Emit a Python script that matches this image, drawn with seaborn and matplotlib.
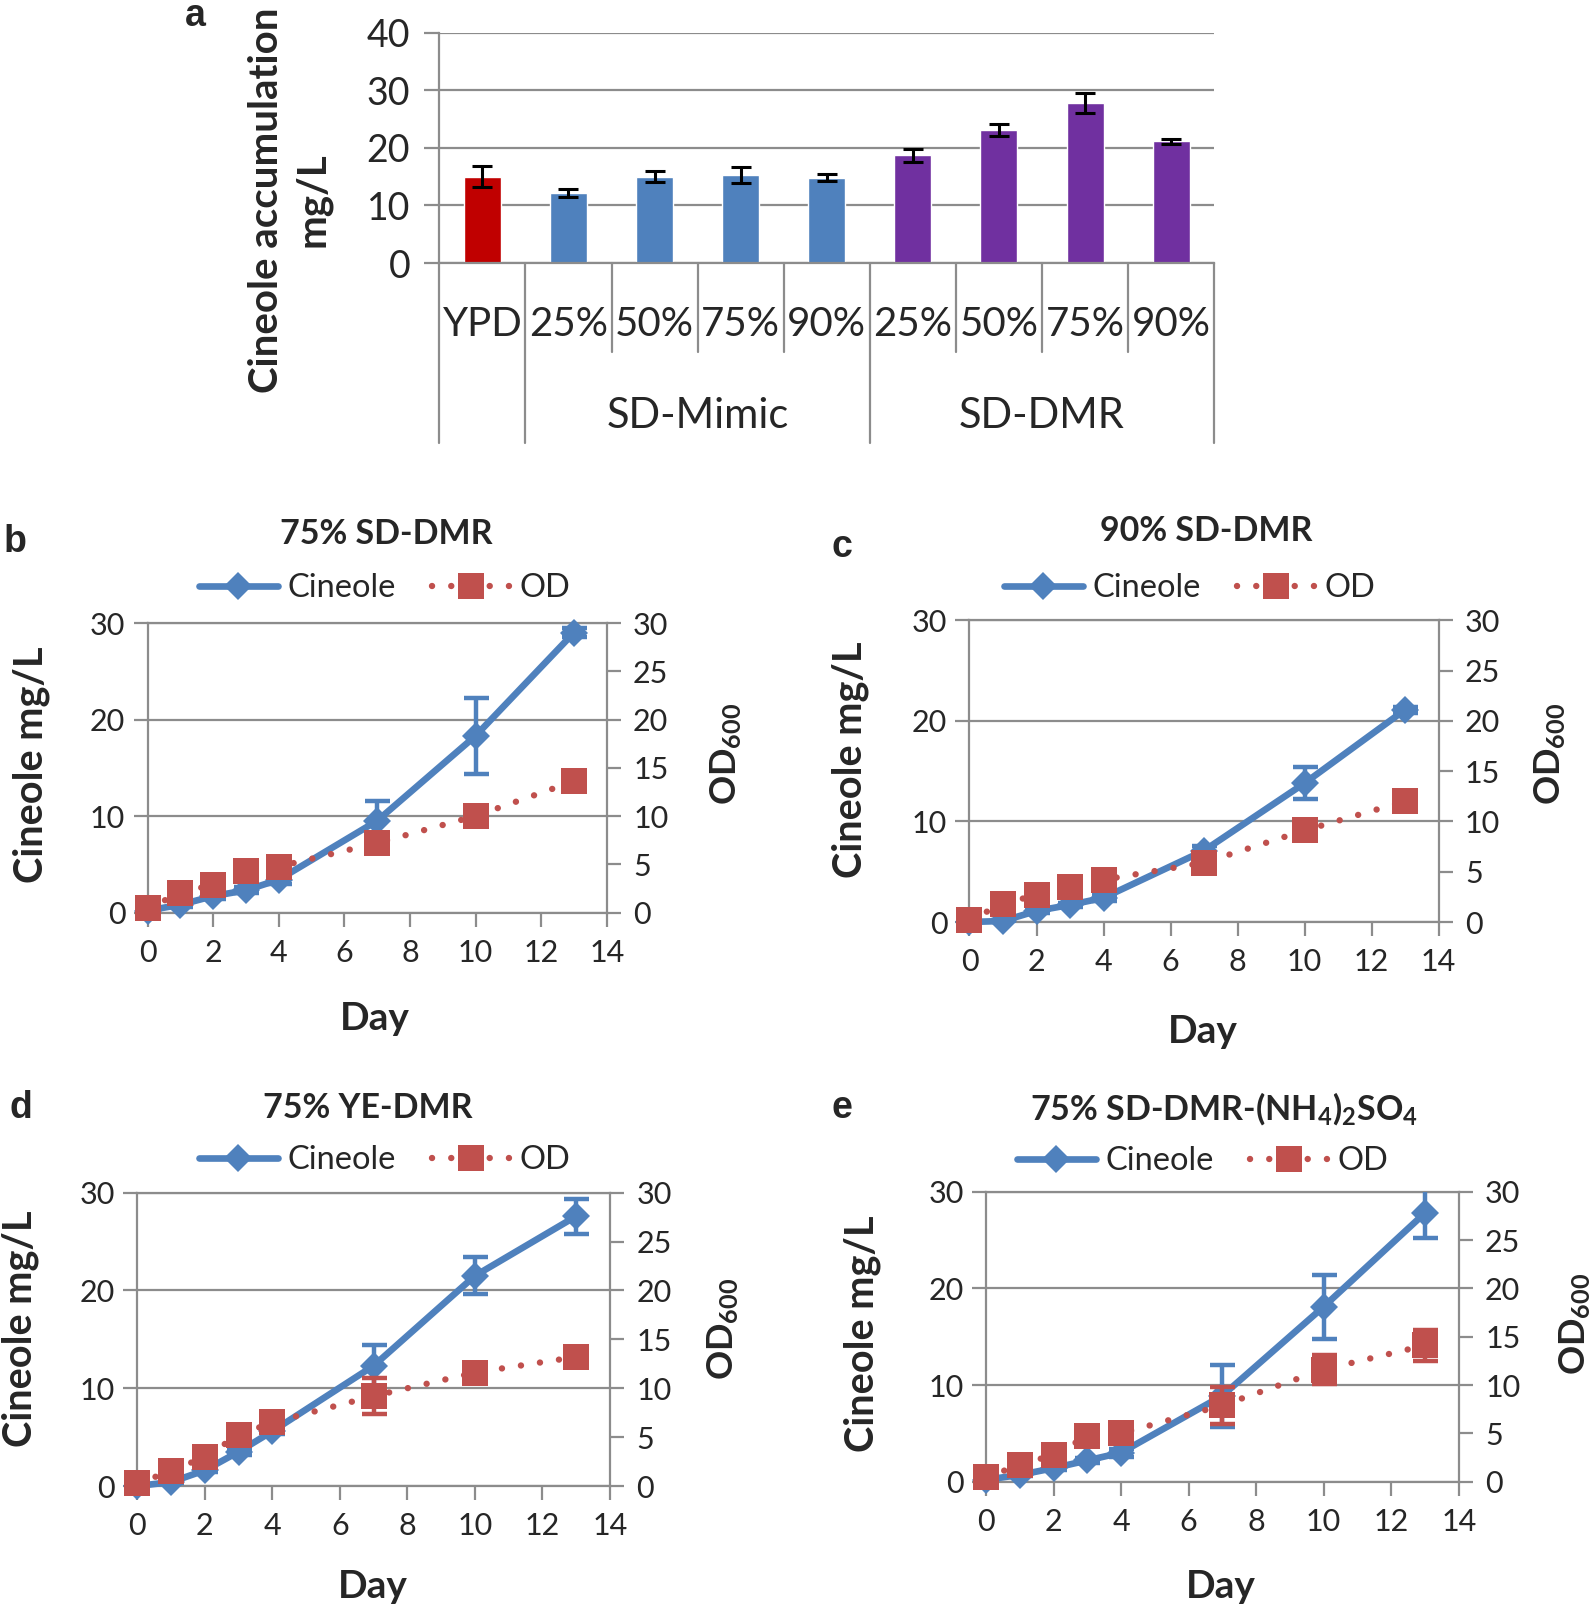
import numpy as np
import pandas as pd
import matplotlib
matplotlib.use("Agg")
import matplotlib.pyplot as plt
import seaborn as sns
from matplotlib.transforms import blended_transform_factory

# ---------------- data ----------------
a_categories = ["YPD", "SD-Mimic 25%", "SD-Mimic 50%", "SD-Mimic 75%", "SD-Mimic 90%",
                "SD-DMR 25%", "SD-DMR 50%", "SD-DMR 75%", "SD-DMR 90%"]
a_tick_labels = ["YPD", "25%", "50%", "75%", "90%", "25%", "50%", "75%", "90%"]
a_values = [15.0, 12.1, 15.0, 15.3, 14.8, 18.7, 23.1, 27.8, 21.1]
a_errors = [1.8, 0.7, 1.0, 1.4, 0.6, 1.1, 1.1, 1.8, 0.5]
a_groups = ["SD-Mimic", "SD-DMR"]

days = [0, 1, 2, 3, 4, 7, 10, 13]

b_cineole = [0.2, 0.8, 1.7, 2.3, 3.4, 9.5, 18.3, 29.0]
b_cineole_err = [0.1, 0.2, 0.3, 0.3, 0.4, 2.1, 3.9, 0.5]
b_od = [0.45, 2.0, 2.9, 4.3, 4.75, 7.2, 10.0, 13.6]
b_od_err = [0, 0, 0, 0, 0, 0, 0, 0]

c_cineole = [0.0, 0.1, 1.1, 1.7, 2.4, 7.1, 13.8, 21.1]
c_cineole_err = [0.0, 0.1, 0.2, 0.2, 0.3, 0.5, 1.6, 0.3]
c_od = [0.2, 1.8, 2.7, 3.5, 4.2, 5.9, 9.1, 12.0]
c_od_err = [0, 0, 0, 0, 0, 0, 0, 0]

d_cineole = [0.0, 0.4, 1.6, 3.5, 5.6, 12.3, 21.5, 27.6]
d_cineole_err = [0.0, 0.1, 0.2, 0.3, 0.3, 2.1, 1.9, 1.8]
d_od = [0.3, 1.5, 3.0, 5.2, 6.5, 9.2, 11.6, 13.2]
d_od_err = [0, 0, 0, 0, 0, 1.8, 0.5, 0.3]

e_cineole = [0.2, 0.7, 1.4, 2.2, 3.0, 8.9, 18.1, 27.8]
e_cineole_err = [0.0, 0.1, 0.2, 0.3, 0.4, 3.2, 3.3, 2.6]
e_od = [0.5, 1.7, 2.8, 4.7, 5.0, 7.9, 11.6, 14.1]
e_od_err = [0, 0, 0, 0, 0, 1.9, 1.5, 1.6]

# ---------------- style ----------------
sns.set_theme(style="white")
plt.rcParams["font.family"] = ["Lato", "DejaVu Sans"]
plt.rcParams["mathtext.fontset"] = "custom"
plt.rcParams["mathtext.rm"] = "Lato"
plt.rcParams["mathtext.bf"] = "Lato:bold"
plt.rcParams["mathtext.default"] = "regular"

W, H = 1595, 1609
BLUE = "#4F81BD"
RED = "#C0504D"
BAR_RED = "#C00000"
PURPLE = "#7030A0"
GRAY = "#8C8C8C"

fig = plt.figure(figsize=(W / 100, H / 100), dpi=100)


def P(x, y):
    return x / W, 1 - y / H


def rect(l, t, r, b):
    return [l / W, 1 - b / H, (r - l) / W, (b - t) / H]


# ---------------- panel a ----------------
axa = fig.add_axes(rect(439.3, 32.6, 1214.2, 263.0))
bar_colors = [BAR_RED] + [BLUE] * 4 + [PURPLE] * 4
df_a = pd.DataFrame({"cat": a_categories, "val": a_values})
sns.barplot(data=df_a, x="cat", y="val", hue="cat", palette=bar_colors, legend=False,
            order=a_categories, width=0.43, saturation=1, errorbar=None, ax=axa)
axa.errorbar(range(len(a_values)), a_values, yerr=a_errors, fmt="none", ecolor="black",
             elinewidth=2.2, capsize=7, capthick=2.2, zorder=5)
axa.set_ylim(0, 40)
axa.set_yticks([0, 10, 20, 30, 40])
axa.set_xlim(-0.5, len(a_values) - 0.5)
axa.yaxis.grid(True, color=GRAY, lw=1.6)
axa.set_axisbelow(True)
for s in ["top", "right"]:
    axa.spines[s].set_visible(False)
for s in ["left", "bottom"]:
    axa.spines[s].set_color(GRAY)
    axa.spines[s].set_linewidth(1.6)
axa.tick_params(axis="y", direction="out", length=11, width=1.6, color=GRAY,
                labelsize=27, pad=10, left=True)
axa.tick_params(axis="x", length=0, labelbottom=False)
axa.set_xlabel("")
axa.set_ylabel("")
trans = blended_transform_factory(axa.transData, axa.transAxes)
for k in range(len(a_values) + 1):
    xb = k - 0.5
    outer = k in (0, 1, 5, 9)
    yend = -0.781 if outer else -0.385
    axa.plot([xb, xb], [0, yend], transform=trans, color=GRAY, lw=1.6, clip_on=False)
for i, lab in enumerate(a_tick_labels):
    axa.text(i, -0.268, lab, transform=trans, ha="center", va="center", fontsize=29)
axa.text(2.5, -0.663, a_groups[0], transform=trans, ha="center", va="center", fontsize=30)
axa.text(6.5, -0.663, a_groups[1], transform=trans, ha="center", va="center", fontsize=30)
fig.text(*P(290, 200), "Cineole accumulation\nmg/L", rotation=90, ha="center", va="center",
         fontsize=29, fontweight="bold", multialignment="center", linespacing=1.3)
fig.text(*P(195, 16), "a", ha="center", va="center", fontsize=27, fontweight="bold",
         family="Liberation Sans")


# ---------------- line panels ----------------
def line_panel(box, cin, cin_err, od, od_err, title, letter, pos):
    ax = fig.add_axes(rect(*box))
    df = pd.DataFrame({"Day": days, "Cineole": cin, "OD": od})
    sns.lineplot(data=df, x="Day", y="Cineole", ax=ax, color=BLUE, marker="D",
                 markersize=14, markeredgewidth=0, linewidth=4.8, clip_on=False,
                 errorbar=None, label="Cineole", legend=False, zorder=3)
    ax.errorbar(days, cin, yerr=cin_err, fmt="none", ecolor=BLUE, elinewidth=3.2,
                capsize=9, capthick=3.2, zorder=4)
    ax2 = ax.twinx()
    sns.lineplot(data=df, x="Day", y="OD", ax=ax2, color=RED, marker="s",
                 markersize=19, markeredgewidth=0, linewidth=4.6,
                 linestyle=(0, (0.01, 3.0)), dash_capstyle="round", clip_on=False,
                 errorbar=None, label="OD", legend=False, zorder=3)
    if any(v > 0 for v in od_err):
        ax2.errorbar(days, od, yerr=od_err, fmt="none", ecolor=RED, elinewidth=3.2,
                     capsize=9, capthick=3.2, zorder=4)
    for a_ in (ax, ax2):
        a_.set_xlim(0, 14)
        a_.set_ylim(0, 30)
        a_.set_xlabel("")
        a_.set_ylabel("")
    ax.set_xticks(range(0, 15, 2))
    ax.set_yticks([0, 10, 20, 30])
    ax2.set_yticks(range(0, 31, 5))
    ax.yaxis.grid(True, color=GRAY, lw=1.6)
    ax.set_axisbelow(True)
    ax2.grid(False)
    for s in ["left", "bottom", "top"]:
        ax.spines[s].set_color(GRAY)
        ax.spines[s].set_linewidth(1.6)
    ax.spines["right"].set_visible(False)
    for s in ["left", "bottom", "top"]:
        ax2.spines[s].set_visible(False)
    ax2.spines["right"].set_color(GRAY)
    ax2.spines["right"].set_linewidth(1.6)
    ax.tick_params(axis="y", direction="out", length=10, width=1.6, color=GRAY,
                   labelsize=22, pad=6, left=True)
    ax.tick_params(axis="x", direction="out", length=10, width=1.6, color=GRAY,
                   labelsize=22, pad=9, bottom=True)
    ax2.tick_params(axis="y", direction="out", length=10, width=1.6, color=GRAY,
                    labelsize=22, pad=9, right=True)
    handles = [ax.lines[0], ax2.lines[0]]
    fig.legend(handles, ["Cineole", "OD"], loc="center", bbox_to_anchor=P(*pos["legend"]),
               ncol=2, frameon=False, fontsize=23.5, handlelength=2.4, handletextpad=0.3,
               columnspacing=1.1, borderpad=0, borderaxespad=0)
    fig.text(*P(*pos["title"]), title, ha="center", va="center", fontsize=24.5,
             fontweight="bold")
    fig.text(*P(*pos["letter"]), letter, ha="center", va="center", fontsize=27,
             fontweight="bold", family="Liberation Sans")
    fig.text(*P(*pos["ylabel"]), "Cineole mg/L", rotation=90, ha="center", va="center",
             fontsize=28.5, fontweight="bold")
    fig.text(*P(*pos["ylabel2"]), r"OD$_\mathbf{600}$", rotation=90, ha="center",
             va="center", fontsize=26, fontweight="bold")
    fig.text(*P(*pos["xlabel"]), "Day", ha="center", va="center", fontsize=28,
             fontweight="bold")
    return ax, ax2


line_panel((147.5, 623.0, 606.7, 912.5), b_cineole, b_cineole_err, b_od, b_od_err,
           "75% SD-DMR", "b",
           dict(legend=(385, 588), title=(386, 534), letter=(15, 542),
                ylabel=(31, 765), ylabel2=(726, 754), xlabel=(374.6, 1019)))
line_panel((969.5, 620.3, 1438.5, 922.0), c_cineole, c_cineole_err, c_od, c_od_err,
           "90% SD-DMR", "c",
           dict(legend=(1190, 588), title=(1206, 531), letter=(842, 547),
                ylabel=(850, 760), ylabel2=(1550, 754), xlabel=(1203, 1031.5)))
line_panel((137.3, 1192.7, 610.0, 1486.0), d_cineole, d_cineole_err, d_od, d_od_err,
           "75% YE-DMR", "d",
           dict(legend=(385, 1160), title=(367.5, 1108.5), letter=(20.5, 1108.5),
                ylabel=(20.5, 1329), ylabel2=(723.6, 1329), xlabel=(372.6, 1586)))
line_panel((986.0, 1191.7, 1458.7, 1481.7), e_cineole, e_cineole_err, e_od, e_od_err,
           r"75% SD-DMR-(NH$_\mathbf{4}$)$_\mathbf{2}$SO$_\mathbf{4}$", "e",
           dict(legend=(1203, 1161), title=(1224.5, 1108.5), letter=(842, 1108.5),
                ylabel=(862, 1334), ylabel2=(1575.5, 1324), xlabel=(1221, 1586)))

fig.savefig("out.png", dpi=100)
